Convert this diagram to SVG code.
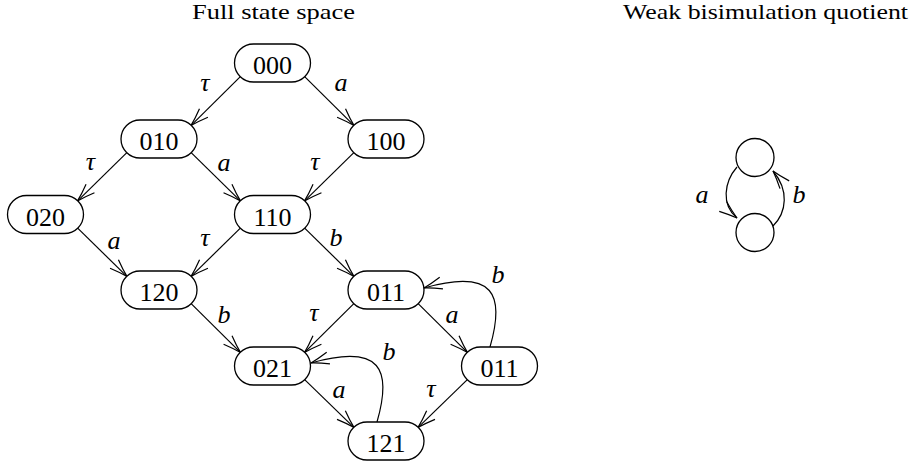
<svg xmlns="http://www.w3.org/2000/svg" width="913" height="463" viewBox="0 0 913 463">
  <style>
    .title { font-family: "Liberation Serif", "DejaVu Serif", serif; font-size: 22px; fill: #000; }
    .state rect { fill: #fff; stroke: #000; stroke-width: 1.3; }
    .state circle { fill: #fff; stroke: #000; stroke-width: 1.3; }
    .state text { font-family: "Liberation Serif", "DejaVu Serif", serif; font-size: 26px; text-anchor: middle; fill: #000; }
    .edges path { fill: none; stroke: #000; stroke-width: 1.2; marker-end: url(#arrow); }
    .lbl { font-family: "Liberation Serif", "DejaVu Serif", serif; font-style: italic; font-size: 26px; text-anchor: middle; fill: #000; }
  </style>
  <defs>
    <!-- open, slightly curved arrowhead -->
    <marker id="arrow" markerUnits="userSpaceOnUse" viewBox="-19 -7 20 14" markerWidth="20" markerHeight="14" refX="0" refY="0" orient="auto">
      <path d="M-18,-6 Q-8,-2 0,0 Q-8,2 -18,6" fill="none" stroke="#000" stroke-width="1.2"/>
    </marker>
  </defs>

  <rect width="913" height="463" fill="#fff"/>

  <!-- headings -->
  <text class="title" x="192" y="19" textLength="163" lengthAdjust="spacingAndGlyphs">Full state space</text>
  <text class="title" x="623" y="19" textLength="285" lengthAdjust="spacingAndGlyphs">Weak bisimulation quotient</text>

  <!-- transitions -->
  <g id="edges" class="edges">
    <path d="M240.6,76.4 L190.9,125.6"/>
    <path d="M304.4,76.4 L354.1,125.6"/>
    <path d="M127.1,152.4 L77.4,201.1"/>
    <path d="M190.9,152.4 L240.6,201.1"/>
    <path d="M354.1,152.4 L304.4,201.1"/>
    <path d="M77.4,227.9 L127.1,276.6"/>
    <path d="M240.6,227.9 L190.9,276.6"/>
    <path d="M304.4,227.9 L354.1,276.6"/>
    <path d="M190.9,303.4 L240.6,352.6"/>
    <path d="M354.1,303.4 L304.4,352.6"/>
    <path d="M417.9,303.4 L467.6,352.6"/>
    <path d="M304.4,379.4 L354.1,427.6"/>
    <path d="M467.6,379.4 L417.9,427.6"/>
    <path d="M490,347 C505,295 495,268 424,288"/>
    <path d="M377,422 C392,370 382,343 311,363"/>
    <!-- quotient -->
    <path d="M737,167 C724,182 721,205 737,218"/>
    <path d="M773,226 C787,212 789,190 773,171"/>
  </g>

  <!-- transition labels -->
  <g id="labels">
    <text class="lbl" x="205" y="91">τ</text>
    <text class="lbl" x="341" y="91">a</text>
    <text class="lbl" x="90.5" y="170">τ</text>
    <text class="lbl" x="224" y="171">a</text>
    <text class="lbl" x="315" y="170">τ</text>
    <text class="lbl" x="114" y="249">a</text>
    <text class="lbl" x="205" y="246">τ</text>
    <text class="lbl" x="336" y="246">b</text>
    <text class="lbl" x="224" y="323">b</text>
    <text class="lbl" x="314" y="321">τ</text>
    <text class="lbl" x="452" y="323">a</text>
    <text class="lbl" x="498" y="283">b</text>
    <text class="lbl" x="339" y="398">a</text>
    <text class="lbl" x="389" y="360">b</text>
    <text class="lbl" x="431" y="397">τ</text>
    <text class="lbl" x="702" y="203">a</text>
    <text class="lbl" x="799" y="203">b</text>
  </g>

  <!-- states of the full space -->
  <g id="s000" class="state"><rect x="234.5" y="44" width="76" height="38" rx="19"/><text x="272.5" y="74">000</text></g>
  <g id="s010" class="state"><rect x="121" y="120" width="76" height="38" rx="19"/><text x="159" y="150">010</text></g>
  <g id="s100" class="state"><rect x="348" y="120" width="76" height="38" rx="19"/><text x="386" y="150">100</text></g>
  <g id="s020" class="state"><rect x="7.5" y="195.5" width="76" height="38" rx="19"/><text x="45.5" y="225.5">020</text></g>
  <g id="s110" class="state"><rect x="234.5" y="195.5" width="76" height="38" rx="19"/><text x="272.5" y="225.5">110</text></g>
  <g id="s120" class="state"><rect x="121" y="271" width="76" height="38" rx="19"/><text x="159" y="301">120</text></g>
  <g id="s011a" class="state"><rect x="348" y="271" width="76" height="38" rx="19"/><text x="386" y="301">011</text></g>
  <g id="s021" class="state"><rect x="234.5" y="347" width="76" height="38" rx="19"/><text x="272.5" y="377">021</text></g>
  <g id="s011b" class="state"><rect x="461.5" y="347" width="76" height="38" rx="19"/><text x="499.5" y="377">011</text></g>
  <g id="s121" class="state"><rect x="348" y="422" width="76" height="38" rx="19"/><text x="386" y="452">121</text></g>

  <!-- quotient states -->
  <g id="q0" class="state"><circle cx="755" cy="157.5" r="19"/></g>
  <g id="q1" class="state"><circle cx="755" cy="232.5" r="19"/></g>
</svg>
